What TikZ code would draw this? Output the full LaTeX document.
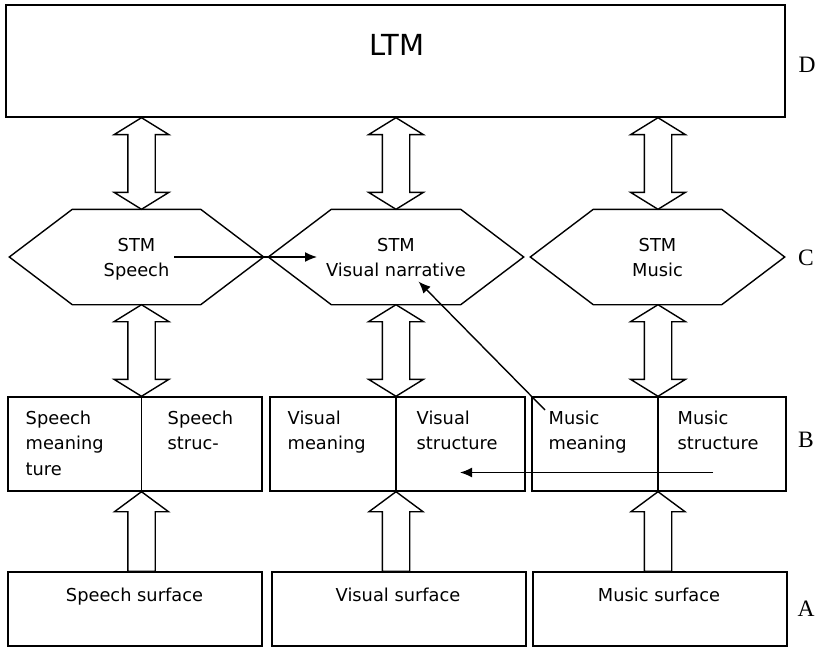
\documentclass[tikz,border=0pt]{standalone}
\usepackage{fontspec}
\setmainfont{DejaVu Sans}
\newfontfamily\lblfont{Liberation Serif}
\usetikzlibrary{arrows.meta,calc}
\newcommand\drawhex[1]{%
  \draw ([xshift=63pt]#1.north west) -- ([xshift=-63pt]#1.north east) -- (#1.east)
    -- ([xshift=-63pt]#1.south east) -- ([xshift=63pt]#1.south west) -- (#1.west) -- cycle;}
\newcommand\dblarrow[2]{%
  \path let \p1=#1, \p2=#2 in [blockarrow]
    (\x1,\y1) -- (\x1+27.5pt,\y1-17pt) -- (\x1+13.7pt,\y1-17pt) -- (\x1+13.7pt,\y2+17pt)
    -- (\x1+27.5pt,\y2+17pt) -- (\x1,\y2) -- (\x1-27.5pt,\y2+17pt) -- (\x1-13.7pt,\y2+17pt)
    -- (\x1-13.7pt,\y1-17pt) -- (\x1-27.5pt,\y1-17pt) -- cycle;}
\newcommand\uparrowblk[2]{%
  \path let \p1=#1, \p2=#2 in [blockarrow]
    (\x1,\y1) -- (\x1+27pt,\y1-20pt) -- (\x1+13.7pt,\y1-20pt) -- (\x1+13.7pt,\y2)
    -- (\x1-13.7pt,\y2) -- (\x1-13.7pt,\y1-20pt) -- (\x1-27pt,\y1-20pt) -- cycle;}
\begin{document}
\begin{tikzpicture}[x=1pt,y=-1pt,line width=1.4pt,line join=miter,
  box/.style={draw,rectangle,inner sep=0pt},
  area/.style={rectangle,inner sep=0pt},
  txt/.style={font=\fontsize{17.8}{25}\selectfont,inner sep=0pt,anchor=base},
  txtl/.style={txt,anchor=base west},
  lvl/.style={font=\lblfont\fontsize{23.5}{28}\selectfont,inner sep=0pt,anchor=base},
  blockarrow/.style={draw,fill=white,line width=1.4pt,line join=miter},
  thinarrow/.style={-{Latex[length=12pt,width=10pt]},line width=1.4pt}]
\useasboundingbox (0,0) rectangle (818,647);
% LTM
\node[box,minimum width=779,minimum height=112] (ltm) at (395.5,61) {};
\node[txt,font=\fontsize{29}{34}\selectfont] (ltmt) at (397,56) {LTM};
% hexagons
\node[area,minimum width=253,minimum height=94] (h1) at (136.5,257) {};
\node[area,minimum width=254,minimum height=94] (h2) at (396,257) {};
\node[area,minimum width=253,minimum height=94] (h3) at (657.5,257) {};
\drawhex{h1}\drawhex{h2}\drawhex{h3}
\node[txt] (h1a) at (136.5,251) {STM};
\node[txt] (h1b) at (136.5,276) {Speech};
\node[txt] (h2a) at (396,251) {STM};
\node[txt] (h2b) at (396,276) {Visual narrative};
\node[txt] (h3a) at (657.5,251) {STM};
\node[txt] (h3b) at (657.5,276) {Music};
% B boxes
\node[box,minimum width=254,minimum height=94] (b1) at (135,444) {};
\node[box,minimum width=255,minimum height=94] (b2) at (397.5,444) {};
\node[box,minimum width=254,minimum height=94] (b3) at (659,444) {};
\coordinate (d1) at (141.5,444);
\coordinate (d2) at (396,444);
\coordinate (d3) at (658,444);
\draw (d1 |- b1.north) -- (d1 |- b1.south);
\draw (d2 |- b2.north) -- (d2 |- b2.south);
\draw (d3 |- b3.north) -- (d3 |- b3.south);
\node[txtl] (t1) at (25,424) {Speech};
\node[txtl] (t2) at (25,449.5) {meaning};
\node[txtl] (t3) at (25,475) {ture};
\node[txtl] (t4) at (167,424) {Speech};
\node[txtl] (t5) at (167,449.5) {struc-};
\node[txtl] (t6) at (287,424) {Visual};
\node[txtl] (t7) at (287,449.5) {meaning};
\node[txtl] (t8) at (416,424) {Visual};
\node[txtl] (t9) at (416,449.5) {structure};
\node[txtl] (t10) at (548,424) {Music};
\node[txtl] (t11) at (548,449.5) {meaning};
\node[txtl] (t12) at (677,424) {Music};
\node[txtl] (t13) at (677,449.5) {structure};
% A boxes
\node[box,minimum width=254,minimum height=74] (a1) at (135,609) {};
\node[box,minimum width=254,minimum height=74] (a2) at (399,609) {};
\node[box,minimum width=254,minimum height=74] (a3) at (660,609) {};
\node[txt] (a1t) at (134.5,601.7) {Speech surface};
\node[txt] (a2t) at (398,601.7) {Visual surface};
\node[txt] (a3t) at (659,601.7) {Music surface};
% level labels
\node[lvl] (lD) at (807,73) {D};
\node[lvl] (lC) at (806,265) {C};
\node[lvl] (lB) at (806,447) {B};
\node[lvl] (lA) at (806,616) {A};
% block arrows
\dblarrow{(ltm.south -| d1)}{(h1.north -| d1)}
\dblarrow{(ltm.south -| d2)}{(h2.north -| d2)}
\dblarrow{(ltm.south -| d3)}{(h3.north -| d3)}
\dblarrow{(h1.south -| d1)}{(b1.north -| d1)}
\dblarrow{(h2.south -| d2)}{(b2.north -| d2)}
\dblarrow{(h3.south -| d3)}{(b3.north -| d3)}
\uparrowblk{(b1.south -| d1)}{(a1.north -| d1)}
\uparrowblk{(b2.south -| d2)}{(a2.north -| d2)}
\uparrowblk{(b3.south -| d3)}{(a3.north -| d3)}
% thin arrows
\coordinate (s1) at (174,257);
\coordinate (s2) at (317,257);
\draw[thinarrow] (s1) -- (s2);
\coordinate (m1) at (545,410);
\coordinate (m2) at (418.5,281.5);
\draw[thinarrow] (m1) -- (m2);
\coordinate (r1) at (713,472.5);
\coordinate (r2) at (460,472.5);
\draw[thinarrow] (r1) -- (r2);
\end{tikzpicture}
\end{document}
